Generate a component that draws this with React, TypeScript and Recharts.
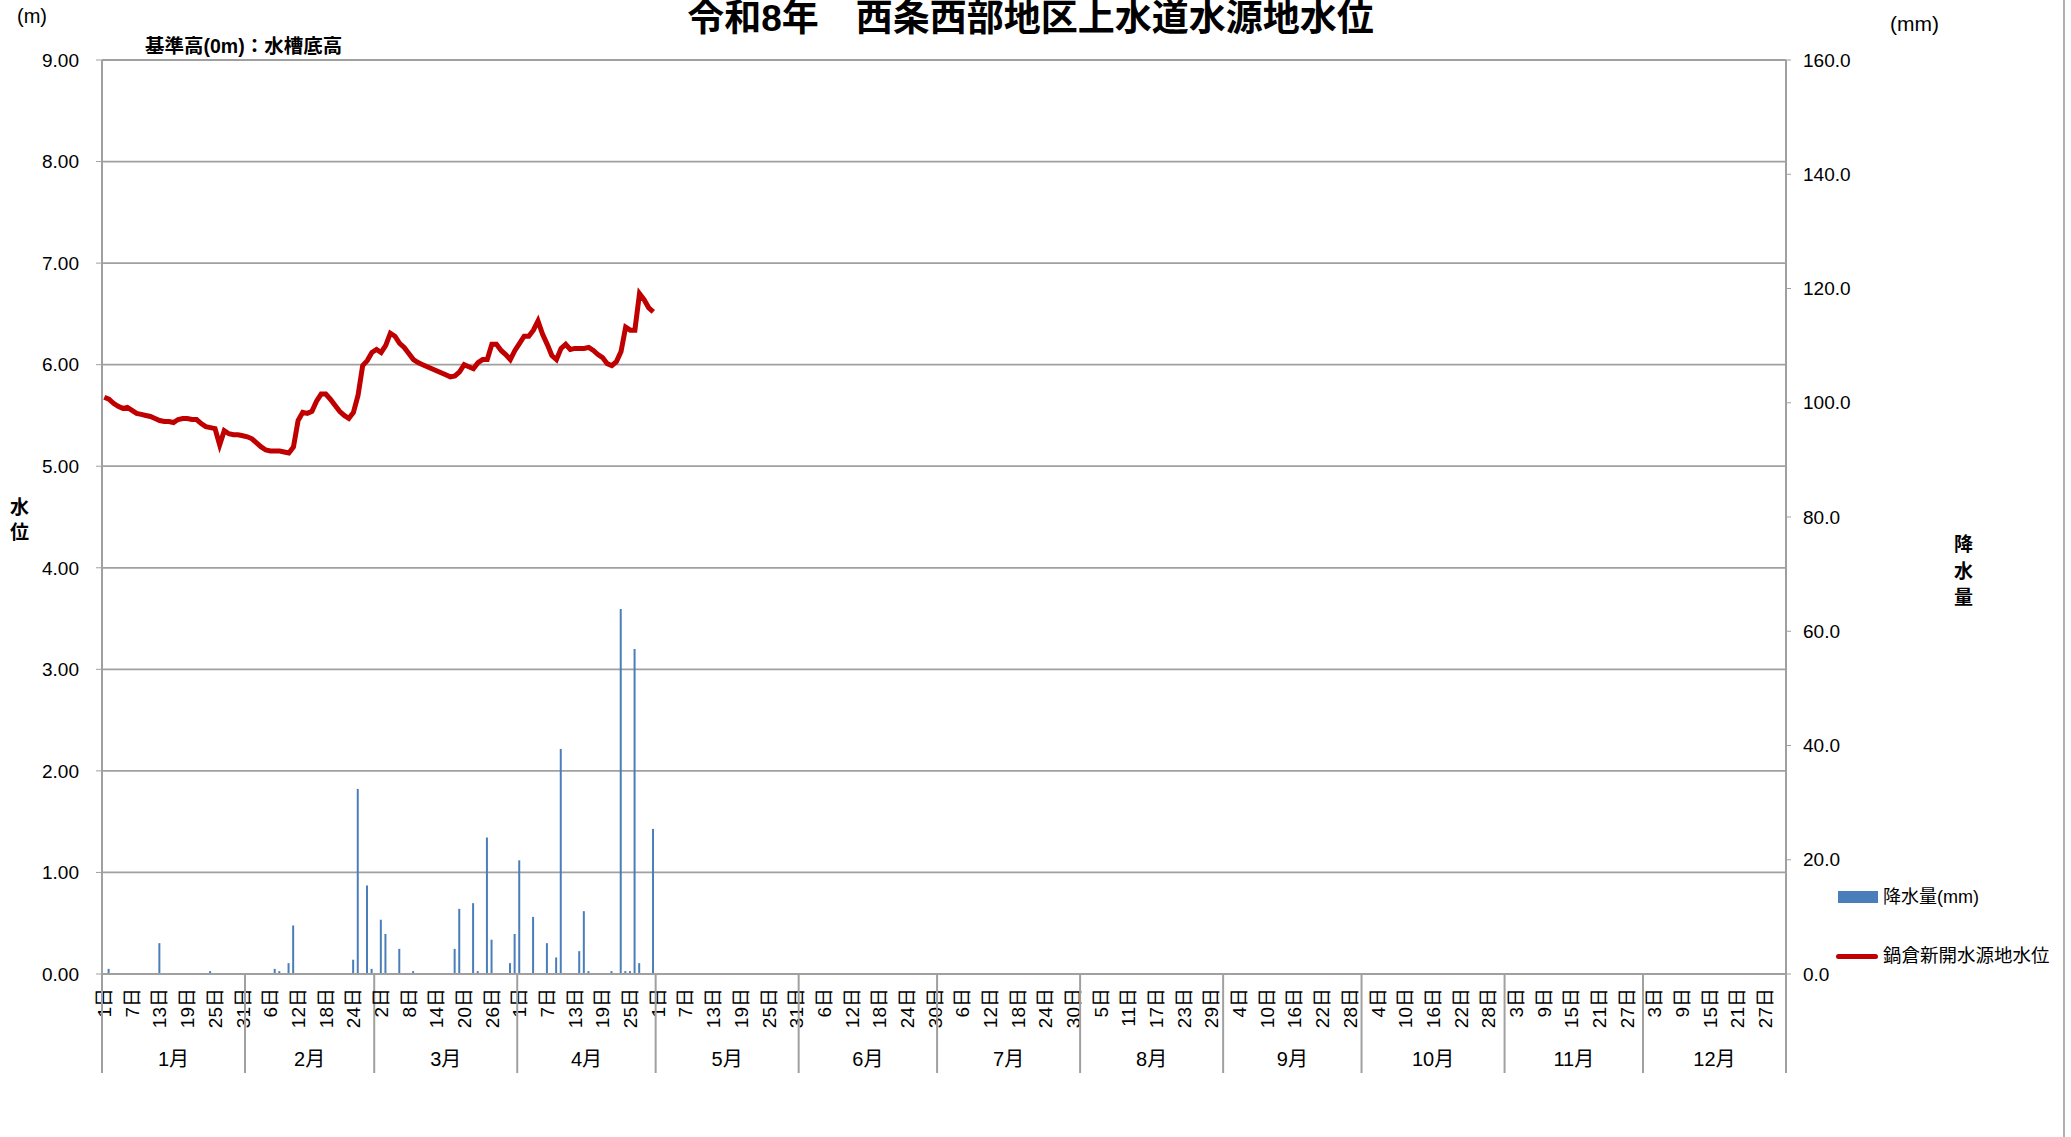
import {
  Bar,
  CartesianGrid,
  ComposedChart,
  Line,
  XAxis,
  YAxis,
} from "recharts";

const monthNames = ["1月", "2月", "3月", "4月", "5月", "6月", "7月", "8月", "9月", "10月", "11月", "12月"];
const monthDays = [31, 28, 31, 30, 31, 30, 31, 31, 30, 31, 30, 31];

// 鍋倉新開水源地水位 (m), daily
const levelJan = [
  5.68, 5.66, 5.62, 5.59, 5.57, 5.58, 5.55, 5.52, 5.51, 5.5, 5.49, 5.47, 5.45, 5.44, 5.44, 5.43,
  5.46, 5.47, 5.47, 5.46, 5.46, 5.42, 5.39, 5.38, 5.37, 5.21, 5.35, 5.32, 5.31, 5.31, 5.3,
];
const levelFeb = [
  5.29, 5.27, 5.23, 5.19, 5.16, 5.15, 5.15, 5.15, 5.14, 5.13, 5.19, 5.45, 5.53, 5.52, 5.54, 5.64,
  5.71, 5.71, 5.66, 5.6, 5.54, 5.5, 5.47, 5.53, 5.7, 5.99, 6.04, 6.12,
];
const levelMar = [
  6.15, 6.12, 6.19, 6.31, 6.28, 6.21, 6.17, 6.11, 6.05, 6.02, 6.0, 5.98, 5.96, 5.94, 5.92, 5.9,
  5.88, 5.89, 5.93, 6.0, 5.98, 5.96, 6.02, 6.05, 6.05, 6.2, 6.2, 6.14, 6.1, 6.05, 6.14,
];
const levelApr = [
  6.21, 6.28, 6.28, 6.34, 6.43, 6.3, 6.2, 6.09, 6.05, 6.16, 6.2, 6.15, 6.16, 6.16, 6.16, 6.17,
  6.14, 6.1, 6.07, 6.01, 5.99, 6.03, 6.13, 6.37, 6.34, 6.34, 6.7, 6.64, 6.56, 6.52,
];

// 降水量 (mm), daily
const rainJan = [
  0, 0.9, 0, 0, 0, 0, 0, 0, 0, 0, 0, 0, 5.4, 0, 0, 0, 0, 0, 0, 0, 0, 0, 0, 0.5, 0, 0, 0, 0, 0, 0, 0,
];
const rainFeb = [
  0, 0, 0, 0, 0, 0, 0.9, 0.5, 0, 1.9, 8.5, 0, 0, 0, 0, 0, 0, 0, 0, 0, 0, 0, 0, 2.5, 32.4, 0, 15.5, 0.9,
];
const rainMar = [
  0, 9.5, 7.0, 0, 0, 4.4, 0, 0, 0.5, 0, 0, 0, 0, 0, 0, 0, 0, 4.4, 11.4, 0, 0, 12.4, 0.5, 0, 23.9, 6.0,
  0, 0, 0, 1.9, 7.0,
];
const rainApr = [
  19.9, 0, 0, 10.0, 0, 0, 5.4, 0, 2.9, 39.4, 0, 0, 0, 4.0, 11.0, 0.5, 0, 0, 0, 0, 0.5, 0, 63.9, 0.5,
  0.5, 56.9, 1.9, 0, 0, 25.4,
];

const levelTicks = [0, 1, 2, 3, 4, 5, 6, 7, 8, 9];
const rainTicks = [0, 20, 40, 60, 80, 100, 120, 140, 160];

const levels = [...levelJan, ...levelFeb, ...levelMar, ...levelApr];
const rains = [...rainJan, ...rainFeb, ...rainMar, ...rainApr];

const rows: { idx: number; month: number; day: number; level: number | null; rain: number | null }[] = [];
monthDays.forEach((n, m) => {
  for (let d = 1; d <= n; d++) {
    const idx = rows.length;
    rows.push({
      idx,
      month: m,
      day: d,
      level: idx < levels.length ? levels[idx] : null,
      rain: idx < rains.length ? rains[idx] : null,
    });
  }
});

const dayTicks = rows.filter((r) => r.idx % 6 === 0 || r.day === 1).map((r) => r.idx);

const W = 2071;
const H = 1137;
const PLOT_LEFT = 102;
const PLOT_RIGHT = 1786;
const BW = (PLOT_RIGHT - PLOT_LEFT) / rows.length;
const FONT = '"Liberation Sans", "Noto Sans CJK JP", sans-serif';
const GRID = "#a0a0a0";

const DayTick = (props: any) => {
  const { x, y, payload } = props;
  const r = rows[payload.value];
  if (!r) return null;
  const xs = x - BW / 2;
  return (
    <g>
      {r.idx % 6 === 0 && (
        <text
          x={x}
          y={y + 14}
          transform={`rotate(-90, ${x}, ${y + 14})`}
          textAnchor="end"
          dy="0.36em"
          fontSize={19}
          fontFamily={FONT}
          fill="#000"
        >
          {r.day}日
        </text>
      )}
      {r.day === 1 && (
        <g>
          <line x1={xs} x2={xs} y1={y} y2={y + 99} stroke={GRID} strokeWidth={2} />
          {r.month === 11 && (
            <line
              x1={xs + monthDays[11] * BW}
              x2={xs + monthDays[11] * BW}
              y1={y}
              y2={y + 99}
              stroke={GRID}
              strokeWidth={2}
            />
          )}
          <text
            x={xs + (monthDays[r.month] * BW) / 2}
            y={y + 92}
            textAnchor="middle"
            fontSize={20}
            fontFamily={FONT}
            fill="#000"
          >
            {monthNames[r.month]}
          </text>
        </g>
      )}
    </g>
  );
};

const abs = (left: number, top: number, extra: any = {}) => ({
  position: "absolute" as const,
  left,
  top,
  fontFamily: FONT,
  color: "#000",
  whiteSpace: "nowrap" as const,
  lineHeight: 1,
  ...extra,
});

export default function App() {
  return (
    <div style={{ position: "absolute", left: 0, top: 0, width: W, height: H, background: "#fff" }}>
      <ComposedChart
        width={W}
        height={H}
        data={rows}
        margin={{ top: 60, right: 185, bottom: 0, left: 0 }}
      >
        <CartesianGrid horizontal vertical={false} stroke={GRID} strokeWidth={1.8} />
        <XAxis
          dataKey="idx"
          type="category"
          ticks={dayTicks}
          interval={0}
          height={163}
          tickSize={0}
          tickMargin={0}
          tickLine={false}
          axisLine={{ stroke: GRID, strokeWidth: 2 }}
          tick={<DayTick />}
        />
        <YAxis
          domain={[0, 9]}
          ticks={levelTicks}
          width={102}
          tickFormatter={(v: number) => v.toFixed(2)}
          tick={{ fill: "#000", fontSize: 19, fontFamily: FONT }}
          tickLine={{ stroke: GRID }}
          tickSize={6}
          tickMargin={17}
          axisLine={{ stroke: GRID, strokeWidth: 2 }}
        />
        <YAxis
          yAxisId="right"
          orientation="right"
          domain={[0, 160]}
          ticks={rainTicks}
          width={100}
          tickFormatter={(v: number) => v.toFixed(1)}
          tick={{ fill: "#000", fontSize: 19, fontFamily: FONT }}
          tickLine={{ stroke: GRID }}
          tickSize={5}
          tickMargin={12}
          axisLine={{ stroke: GRID, strokeWidth: 2 }}
        />
        <Bar
          yAxisId="right"
          dataKey="rain"
          name="降水量(mm)"
          fill="#4a7ebb"
          barSize={2}
          isAnimationActive={false}
        />
        <Line
          dataKey="level"
          name="鍋倉新開水源地水位"
          type="linear"
          stroke="#c00000"
          strokeWidth={5}
          dot={false}
          activeDot={false}
          connectNulls={false}
          isAnimationActive={false}
        />
      </ComposedChart>

      <div style={abs(-5, 0, { width: W, textAlign: "center", fontSize: 37, fontWeight: 700 })}>
        令和8年　西条西部地区上水道水源地水位
      </div>
      <div style={abs(17, 6, { fontSize: 20 })}>(m)</div>
      <div style={abs(1890, 13, { fontSize: 21 })}>(mm)</div>
      <div style={abs(145, 37, { fontSize: 19.5, fontWeight: 700 })}>基準高(0m)：水槽底高</div>
      <div style={abs(10, 496, { fontSize: 19, fontWeight: 700, lineHeight: 1.3, width: 22 })}>水<br />位</div>
      <div style={abs(1954, 532, { fontSize: 19, fontWeight: 700, lineHeight: 1.4, width: 22 })}>降<br />水<br />量</div>

      <div style={abs(1838, 891, { width: 40, height: 12, background: "#4a7ebb" })} />
      <div style={abs(1883, 888, { fontSize: 18 })}>降水量(mm)</div>
      <div style={abs(1836, 954, { width: 42, height: 5, borderRadius: 3, background: "#c00000" })} />
      <div style={abs(1883, 947, { fontSize: 18.5 })}>鍋倉新開水源地水位</div>

      <div style={{ position: "absolute", left: 2063, top: 0, width: 2, height: H, background: "#b0b0b0" }} />
    </div>
  );
}
